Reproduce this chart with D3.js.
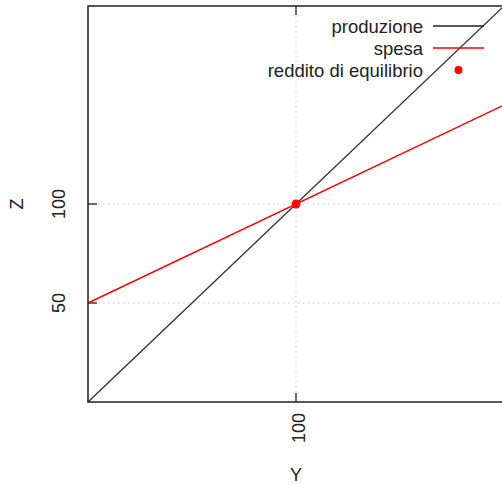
<!DOCTYPE html>
<html>
<head>
<meta charset="utf-8">
<script src="https://cdn.jsdelivr.net/npm/d3@7"></script>
<style>
  html, body { margin: 0; padding: 0; background: #fff; }
  svg { display: block; font-family: "Liberation Sans", Arial, sans-serif; }
</style>
</head>
<body>
<svg id="chart" width="502" height="485"></svg>
<script>
// Domain of income Y and aggregate demand Z
const yDomain = [0, 200];
const zDomain = [0, 200];

// Production line: Z = Y
const produzione = [[0, 0], [200, 200]];
// Spending line: Z = 50 + 0.5 Y
const spesa = [[0, 50], [200, 150]];
// Equilibrium income
const equilibrio = [[100, 100]];

const xTicks = [100];
const zTicks = [50, 100];

const legendLabels = ["produzione", "spesa", "reddito di equilibrio"];

const svg = d3.select("#chart");
const W = 502, H = 485;
const m = { left: 88, top: 6, right: 504, bottom: 402 };

svg.append("rect").attr("width", W).attr("height", H).attr("fill", "#fff");

const x = d3.scaleLinear().domain(yDomain).range([m.left, m.right]);
const y = d3.scaleLinear().domain(zDomain).range([m.bottom, m.top]);

const plot = svg.append("g");

// dotted grid
plot.selectAll("line.gx").data(xTicks).join("line")
  .attr("x1", d => x(d)).attr("x2", d => x(d))
  .attr("y1", m.top).attr("y2", m.bottom)
  .attr("stroke", "#c8c8c8").attr("stroke-width", 1)
  .attr("stroke-dasharray", "1.5,3.5");
plot.selectAll("line.gy").data(zTicks).join("line")
  .attr("x1", m.left).attr("x2", m.right)
  .attr("y1", d => y(d)).attr("y2", d => y(d))
  .attr("stroke", "#c8c8c8").attr("stroke-width", 1)
  .attr("stroke-dasharray", "1.5,3.5");

// inward ticks
const tickLen = 9;
const tickColor = "#222";
plot.selectAll("line.tb").data(xTicks).join("line")
  .attr("x1", d => x(d)).attr("x2", d => x(d))
  .attr("y1", m.bottom).attr("y2", m.bottom - tickLen)
  .attr("stroke", tickColor).attr("stroke-width", 1.3);
plot.selectAll("line.tt").data(xTicks).join("line")
  .attr("x1", d => x(d)).attr("x2", d => x(d))
  .attr("y1", m.top).attr("y2", m.top + tickLen)
  .attr("stroke", tickColor).attr("stroke-width", 1.3);
plot.selectAll("line.tl").data(zTicks).join("line")
  .attr("x1", m.left).attr("x2", m.left + tickLen)
  .attr("y1", d => y(d)).attr("y2", d => y(d))
  .attr("stroke", tickColor).attr("stroke-width", 1.3);

// lines
const line = d3.line().x(d => x(d[0])).y(d => y(d[1]));
plot.append("path").datum(produzione).attr("d", line)
  .attr("fill", "none").attr("stroke", "#333").attr("stroke-width", 1.4);
plot.append("path").datum(spesa).attr("d", line)
  .attr("fill", "none").attr("stroke", "#ff0000").attr("stroke-width", 1.4);

// equilibrium point
plot.selectAll("circle.eq").data(equilibrio).join("circle")
  .attr("cx", d => x(d[0])).attr("cy", d => y(d[1]))
  .attr("r", 4.5).attr("fill", "#ff0000");

// frame
plot.append("rect")
  .attr("x", m.left).attr("y", m.top)
  .attr("width", m.right - m.left).attr("height", m.bottom - m.top)
  .attr("fill", "none").attr("stroke", "#222").attr("stroke-width", 1.5);

// tick labels
const fs = 18;
const textColor = "#222";
svg.selectAll("text.xl").data(xTicks).join("text")
  .attr("transform", d => `translate(${x(d) + 9},${m.bottom + 11}) rotate(-90)`)
  .attr("text-anchor", "end")
  .attr("font-size", fs).attr("fill", textColor)
  .text(d => d);
svg.selectAll("text.yl").data(zTicks).join("text")
  .attr("transform", d => `translate(${m.left - 23},${y(d)}) rotate(-90)`)
  .attr("text-anchor", "middle")
  .attr("font-size", fs).attr("fill", textColor)
  .text(d => d);

// axis titles
svg.append("text")
  .attr("x", (m.left + m.right) / 2).attr("y", 481)
  .attr("text-anchor", "middle").attr("font-size", fs).attr("fill", textColor)
  .text("Y");
svg.append("text")
  .attr("transform", `translate(23,${(m.top + m.bottom) / 2}) rotate(-90)`)
  .attr("text-anchor", "middle").attr("font-size", fs).attr("fill", textColor)
  .text("Z");

// legend
const legX = 423, legY0 = 26, legDy = 22;
const lg = svg.append("g");
legendLabels.forEach((lab, i) => {
  const cy = legY0 + i * legDy;
  lg.append("text")
    .attr("x", legX).attr("y", cy + 6.5)
    .attr("text-anchor", "end").attr("font-size", 18.5).attr("fill", textColor)
    .text(lab);
  if (i === 0) {
    lg.append("line").attr("x1", 433).attr("x2", 484).attr("y1", cy).attr("y2", cy)
      .attr("stroke", "#222").attr("stroke-width", 1.4);
  } else if (i === 1) {
    lg.append("line").attr("x1", 433).attr("x2", 484).attr("y1", cy).attr("y2", cy)
      .attr("stroke", "#ff0000").attr("stroke-width", 1.4);
  } else {
    lg.append("circle").attr("cx", 458.5).attr("cy", cy).attr("r", 4)
      .attr("fill", "#ff0000");
  }
});
</script>
</body>
</html>
